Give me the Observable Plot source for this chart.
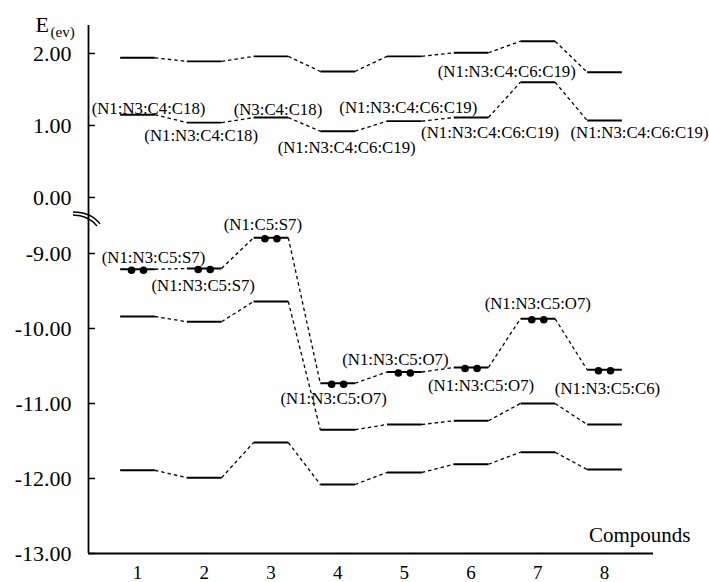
<!DOCTYPE html>
<html>
<head>
<meta charset="utf-8">
<script src="https://cdn.jsdelivr.net/npm/d3@7"></script>
<script src="https://cdn.jsdelivr.net/npm/@observablehq/plot@0.6"></script>
<style>
  html, body { margin: 0; padding: 0; background: white; }
  #chart { width: 709px; height: 582px; }
</style>
</head>
<body>
<div id="chart"></div>
<script>
// ---- data ----
const compounds = [1, 2, 3, 4, 5, 6, 7, 8];
const levelA = [1.94, 1.89, 1.96, 1.75, 1.96, 2.01, 2.17, 1.74];
const levelB = [1.15, 1.04, 1.11, 0.92, 1.06, 1.11, 1.60, 1.07];
const levelC = [-9.21, -9.20, -8.79, -10.73, -10.58, -10.52, -9.87, -10.55]; // occupied (dots)
const levelD = [-9.84, -9.91, -9.64, -11.35, -11.28, -11.23, -11.00, -11.28];
const levelE = [-11.89, -11.99, -11.52, -12.08, -11.92, -11.81, -11.65, -11.88];
const labelsB = ["(N1:N3:C4:C18)", "(N1:N3:C4:C18)", "(N3:C4:C18)", "(N1:N3:C4:C6:C19)",
                 "(N1:N3:C4:C6:C19)", "(N1:N3:C4:C6:C19)", "(N1:N3:C4:C6:C19)", "(N1:N3:C4:C6:C19)"];
const labelsC = ["(N1:N3:C5:S7)", "(N1:N3:C5:S7)", "(N1:C5:S7)", "(N1:N3:C5:O7)",
                 "(N1:N3:C5:O7)", "(N1:N3:C5:O7)", "(N1:N3:C5:O7)", "(N1:N3:C5:C6)"];
const yTickValues = [2, 1, 0, -9, -10, -11, -12, -13];
const yTickLabels = ["2.00", "1.00", "0.00", "-9.00", "-10.00", "-11.00", "-12.00", "-13.00"];

// ---- layout (offsets in px, not data) ----
const labelOffB = [[11, -6], [-3, 13], [7, -8], [9, 16], [4, -14], [19, 15], [-31, -11], [35, 12]];
const labelOffC = [[16, -12], [-1, 17], [-8, -13], [-4, 15], [-9, -12], [10, 18], [0, -15], [3, 19]];
const FONT = "Liberation Serif";

// axis break: compress the gap between 0 and -9
const f = v => v > -5 ? v * 0.96 - 8.253 : v;
const hw = 0.26;
const xDomain = [0.2655, 8.7345];
const pxPerX = 565 / (xDomain[1] - xDomain[0]);

const series = [levelA, levelB, levelC, levelD, levelE];
const levels = [];
const links = [];
series.forEach((s, si) => {
  compounds.forEach((c, i) => {
    levels.push({c, e: s[i], si});
    if (i < compounds.length - 1) links.push({c, e1: s[i], e2: s[i + 1], si});
  });
});
const dots = [];
compounds.forEach((c, i) => { dots.push({x: c - 0.09, e: levelC[i]}); dots.push({x: c + 0.09, e: levelC[i]}); });

const tickMap = new Map(yTickValues.map((v, i) => [f(v), yTickLabels[i]]));

const labelMarks = [];
compounds.forEach((c, i) => {
  labelMarks.push(Plot.text([0], {x: () => c, y: () => f(levelB[i]), text: () => labelsB[i],
    dx: labelOffB[i][0], dy: labelOffB[i][1], fontSize: 16.8, fill: "black"}));
  labelMarks.push(Plot.text([0], {x: () => c, y: () => f(levelC[i]), text: () => labelsC[i],
    dx: labelOffC[i][0], dy: labelOffC[i][1], fontSize: 16.8, fill: "black"}));
});

const plot = Plot.plot({
  width: 709,
  height: 582,
  marginLeft: 88,
  marginRight: 56,
  marginTop: 25,
  marginBottom: 29,
  x: {domain: xDomain},
  y: {domain: [-13, -5.96]},
  marks: [
    Plot.ruleX([xDomain[0]], {stroke: "black", strokeWidth: 1.8}),
    Plot.ruleY([-13], {stroke: "black", strokeWidth: 1.8}),
    Plot.ruleY(yTickValues.map(f), {x1: xDomain[0], x2: xDomain[0] + 7 / pxPerX, stroke: "black", strokeWidth: 1.5}),
    Plot.axisY({ticks: yTickValues.map(f), tickFormat: d => tickMap.get(d), tickSize: 0, tickPadding: 17, fontSize: 22, fill: "black", label: null}),
    Plot.axisX({ticks: compounds, tickFormat: d => String(d), tickSize: 0, tickPadding: 12, fontSize: 19, fill: "black", label: null}),
    Plot.link(links, {x1: d => d.c + hw, x2: d => d.c + 1 - hw, y1: d => f(d.e1), y2: d => f(d.e2),
      stroke: "black", strokeWidth: 1.3, strokeDasharray: "3.5,3"}),
    Plot.link(levels, {x1: d => d.c - hw, x2: d => d.c + hw, y1: d => f(d.e), y2: d => f(d.e),
      stroke: "black", strokeWidth: 1.9}),
    Plot.dot(dots, {x: "x", y: d => f(d.e), r: 3.8, fill: "black", stroke: "none", dy: 1}),
    ...labelMarks,
    Plot.text(["Compounds"], {frameAnchor: "bottom-right", textAnchor: "end", dx: 37, dy: -18, lineAnchor: "middle", fontSize: 21, fill: "black"}),
    Plot.text(["E"], {frameAnchor: "top-left", textAnchor: "start", dx: -53, dy: -1, lineAnchor: "middle", fontSize: 22, fill: "black"}),
    Plot.text(["(ev)"], {frameAnchor: "top-left", textAnchor: "start", dx: -38, dy: 7, lineAnchor: "middle", fontSize: 15, fill: "black"})
  ]
});

const svg = d3.select(plot);
// force serif font on every text element (inline attribute + style)
svg.attr("font-family", FONT).style("background", "white");
svg.selectAll("g").attr("font-family", FONT);
svg.selectAll("text").attr("font-family", FONT).style("font-family", "'Liberation Serif', serif");

// axis break symbol
const ax = plot.scale("x").apply(xDomain[0]);
const by = plot.scale("y").apply(f(0)) + 15;
svg.append("path")
  .attr("d", `M${ax - 15},${by} Q${ax + 3},${by} ${ax + 12},${by + 12}`)
  .attr("fill", "none").attr("stroke", "black").attr("stroke-width", 1.3);
svg.append("path")
  .attr("d", `M${ax - 15},${by + 3} Q${ax},${by + 3} ${ax + 9},${by + 14}`)
  .attr("fill", "none").attr("stroke", "black").attr("stroke-width", 1.3);

document.getElementById("chart").appendChild(plot);
</script>
</body>
</html>
